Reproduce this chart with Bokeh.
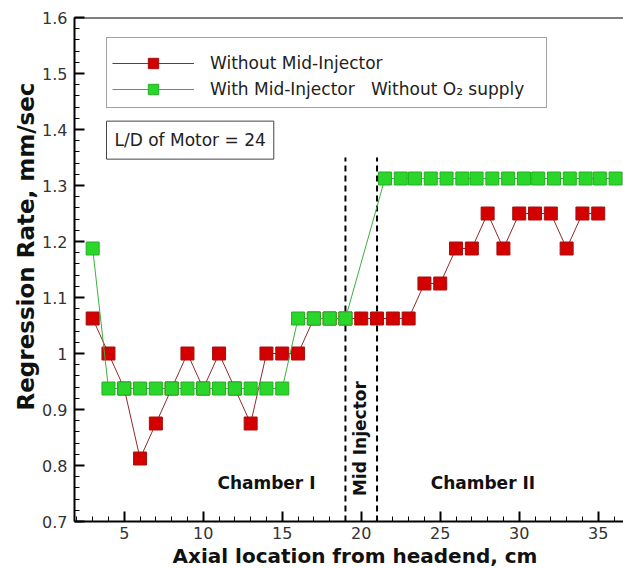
import math
from bokeh.plotting import figure
from bokeh.models import (Range1d, FixedTicker, CustomJSTickFormatter, Legend,
                          LegendItem, Label, Span, Title)
from bokeh.embed import file_html
from bokeh.resources import INLINE

# ---- data ----
red_x = list(range(3, 36))
red_y = [1.0625, 1.0, 0.9375, 0.8125, 0.875, 0.9375, 1.0, 0.9375, 1.0, 0.9375,
         0.875, 1.0, 1.0, 1.0, 1.0625, 1.0625, 1.0625, 1.0625, 1.0625, 1.0625,
         1.0625, 1.125, 1.125, 1.1875, 1.1875, 1.25, 1.1875, 1.25, 1.25, 1.25,
         1.1875, 1.25, 1.25]

green_x = [3, 4, 5, 6, 7, 8, 9, 10, 11, 12, 13, 14, 15, 16, 17, 18, 19,
           21.5, 22.5, 23.4, 24.4, 25.4, 26.4, 27.3, 28.3, 29.3, 30.3, 31.2,
           32.2, 33.2, 34.2, 35.1, 36.1]
green_y = [1.1875] + [0.9375] * 12 + [1.0625] * 4 + [1.3125] * 16

injector_x = [19, 21]
injector_top = 1.35

x_ticks = [5, 10, 15, 20, 25, 30, 35]
x_minor = list(range(2, 37))
y_ticks = [0.7, 0.8, 0.9, 1.0, 1.1, 1.2, 1.3, 1.4, 1.5, 1.6]
y_minor = [round(0.7 + 0.02 * i, 2) for i in range(46)]

red_label = "Without Mid-Injector"
green_label = "With Mid-Injector\u00a0\u00a0\u00a0Without O\u2082 supply"
x_title = "Axial location from headend, cm"
y_title = "Regression Rate, mm/sec"

FONT = "DejaVu Sans"

p = figure(width=623, height=568, x_range=Range1d(1.85, 36.6),
           y_range=Range1d(0.7, 1.6), output_backend="svg",
           toolbar_location=None, min_border_left=74, min_border_right=0,
           min_border_top=17, min_border_bottom=47)
p.outline_line_color = None
p.xgrid.visible = False
p.ygrid.visible = False
p.background_fill_color = "white"

# axes
for ax in (p.xaxis[0], p.yaxis[0]):
    ax.axis_line_width = 2
    ax.axis_line_color = "black"
    ax.major_tick_in = 10
    ax.major_tick_out = 0
    ax.minor_tick_in = 5
    ax.minor_tick_out = 0
    ax.major_tick_line_width = 2
    ax.minor_tick_line_width = 1
    ax.major_label_text_font = FONT
    ax.major_label_text_font_size = "16px"
    ax.major_label_text_color = "#333333"

p.xaxis.ticker = FixedTicker(ticks=x_ticks, minor_ticks=x_minor)
p.yaxis.ticker = FixedTicker(ticks=y_ticks, minor_ticks=y_minor)
p.yaxis.formatter = CustomJSTickFormatter(
    code="return (Math.round(tick*10)/10).toString();")
p.xaxis.major_label_standoff = 5
p.yaxis.major_label_standoff = 7

# axis titles as side titles (offset like the reference)
p.add_layout(Title(text=x_title, align="left", offset=98, standoff=0,
                   text_font=FONT, text_font_size="20px",
                   text_font_style="bold", text_color="#111111"), "below")
p.add_layout(Title(text=y_title, align="right", offset=65, standoff=2,
                   text_font=FONT, text_font_size="23px",
                   text_font_style="bold", text_color="#111111"), "left")

p.add_layout(Span(location=1.6, dimension="width", line_color="black",
                  line_width=2))

# injector dashed lines
p.segment(x0=injector_x, y0=[0.7] * len(injector_x), x1=injector_x,
          y1=[injector_top] * len(injector_x), line_color="black",
          line_width=2, line_dash="6 4")

# series
rl = p.line(red_x, red_y, line_color="#8e2a2a", line_width=1)
rs = p.scatter(red_x, red_y, marker="square", size=13, fill_color="#d40000",
               line_color="#a31010", line_width=1)
gl = p.line(green_x, green_y, line_color="#3fae3f", line_width=1)
gs = p.scatter(green_x, green_y, marker="square", size=13,
               fill_color="#2bd62b", line_color="#22b022", line_width=1)

legend = Legend(items=[LegendItem(label=red_label, renderers=[rl, rs]),
                       LegendItem(label=green_label, renderers=[gl, gs])],
                location=(32, 413), orientation="vertical",
                title="\u00a0", title_text_font_size="7px", title_standoff=0,
                padding=5, spacing=0, glyph_width=82, glyph_height=26,
                label_height=20, label_width=331, label_standoff=16,
                label_text_font=FONT, label_text_font_size="17px",
                label_text_color="#222222", border_line_color="#444444",
                border_line_width=1, background_fill_color="white",
                background_fill_alpha=1.0, margin=0)
p.add_layout(legend)

p.add_layout(Label(x=3.875, y=1.381, text="L/D of Motor = 24",
                   text_align="left", text_baseline="middle",
                   text_font=FONT, text_font_size="17px",
                   text_color="#222222", border_line_color="#444444",
                   border_line_width=1, background_fill_color="white",
                   padding=dict(left=8, right=8, top=9, bottom=9)))

for tx, ty, txt in [(14.0, 0.768, "Chamber I"), (27.7, 0.768, "Chamber II")]:
    p.add_layout(Label(x=tx, y=ty, text=txt, text_align="center",
                       text_baseline="middle", text_font=FONT,
                       text_font_size="17px", text_font_style="bold",
                       text_color="#111111"))

p.add_layout(Label(x=19.9, y=0.848, text="Mid Injector", angle=math.pi / 2,
                   text_align="center", text_baseline="middle",
                   text_font=FONT, text_font_size="17px",
                   text_font_style="bold", text_color="#111111"))

open("out.html", "w").write(file_html(p, INLINE))
